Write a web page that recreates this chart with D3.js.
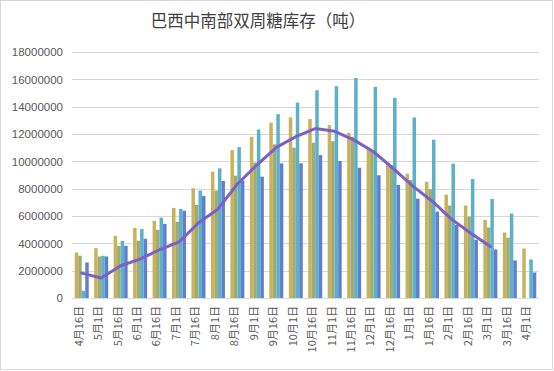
<!DOCTYPE html>
<html><head><meta charset="utf-8">
<script src="https://cdn.jsdelivr.net/npm/d3@7"></script>
<style>
html,body{margin:0;padding:0;background:#fff;}
svg{display:block;}
</style></head>
<body>
<svg id="chart" width="554" height="371"></svg>
<script>
const title = "巴西中南部双周糖库存（吨）";
const categories = ['4月16日','5月1日','5月16日','6月1日','6月16日','7月1日','7月16日','8月1日','8月16日','9月1日','9月16日','10月1日','10月16日','11月1日','11月16日','12月1日','12月16日','1月1日','1月16日','2月1日','2月16日','3月1日','3月16日','4月1日'];
const seriesNames = ['季度1','季度2','季度3','季度4'];
const series1 = [3330000,3650000,4550000,5130000,5640000,6590000,8030000,9240000,10820000,11800000,12820000,13210000,13090000,12650000,12090000,10870000,9900000,9100000,8510000,7560000,6760000,5720000,4790000,3620000];
const series2 = [3090000,3040000,3820000,4200000,4990000,5570000,6810000,7860000,8950000,9900000,11240000,11000000,11360000,11480000,11800000,10820000,9730000,8640000,7960000,6760000,5960000,5160000,4400000,null];
const series3 = [530000,3090000,4180000,5040000,5880000,6520000,7860000,9490000,11040000,12330000,13450000,14300000,15200000,15500000,16100000,15450000,14640000,13210000,11580000,9830000,8710000,7250000,6180000,2820000];
const series4 = [2600000,3040000,3820000,4330000,5420000,6390000,7470000,8560000,8600000,8880000,9850000,9850000,10460000,10020000,9530000,8980000,8270000,7270000,6320000,5350000,4260000,3550000,2750000,1870000];
const lineSeries = [1820000,1460000,2360000,2850000,3530000,4100000,5500000,6500000,8340000,9730000,11020000,11800000,12400000,12200000,11550000,10700000,9490000,8200000,7100000,5770000,4740000,3770000,null,null];
const yTicks = [0,2000000,4000000,6000000,8000000,10000000,12000000,14000000,16000000,18000000];

const barColors = ['#C9B25E','#9EAB74','#5DB0C9','#5F7FCF'];
const lineColor = '#7C60C8';

const svg = d3.select('#chart');
const W = 554, H = 371;
const m = {left:72, right:15, top:52, bottom:73};
const plotW = W - m.left - m.right, plotH = H - m.top - m.bottom;

svg.append('rect').attr('x',0.5).attr('y',0.5).attr('width',W-2).attr('height',H-2)
  .attr('fill','#fff').attr('stroke','#D9D9D9');

svg.append('text').attr('x',258).attr('y',27).attr('text-anchor','middle')
  .attr('font-family','"Noto Sans CJK SC", sans-serif').attr('font-size',16.5)
  .attr('fill','#404040').text(title);

const g = svg.append('g').attr('transform',`translate(${m.left},${m.top})`);

const y = d3.scaleLinear().domain([0,18000000]).range([plotH,0]);
const x0 = d3.scaleBand().domain(categories).range([0,plotW]).paddingInner(0.28).paddingOuter(0.14);
const x1 = d3.scaleBand().domain(d3.range(4)).range([0,x0.bandwidth()]).padding(0);

// grid
g.append('g').selectAll('line').data(yTicks).join('line')
  .attr('x1',0).attr('x2',plotW)
  .attr('y1',d=>Math.round(y(d))+0.5).attr('y2',d=>Math.round(y(d))+0.5)
  .attr('stroke','#D9D9D9').attr('stroke-width',1);

// y axis
const yAxis = g.append('g').call(d3.axisLeft(y).tickValues(yTicks).tickFormat(d3.format('d')).tickSize(0).tickPadding(9));
yAxis.select('.domain').remove();
yAxis.selectAll('text').attr('font-family','"Liberation Sans", Arial, sans-serif').attr('font-size',11.5).attr('fill','#595959');

// bars
const allSeries = [series1,series2,series3,series4];
const groups = g.append('g').selectAll('g').data(categories).join('g')
  .attr('transform',d=>`translate(${x0(d)},0)`);
groups.selectAll('rect').data((d,i)=>allSeries.map((s,k)=>({k, v:s[i]})).filter(o=>o.v!=null))
  .join('rect')
  .attr('x',o=>x1(o.k)).attr('width',x1.bandwidth())
  .attr('y',o=>y(o.v)).attr('height',o=>y(0)-y(o.v))
  .attr('fill',o=>barColors[o.k]);

// line
const line = d3.line().defined(d=>d!=null)
  .x((d,i)=>x0(categories[i])+x0.bandwidth()/2).y(d=>y(d)).curve(d3.curveLinear);
g.append('path').datum(lineSeries).attr('d',line).attr('fill','none')
  .attr('stroke',lineColor).attr('stroke-width',3).attr('stroke-linejoin','round').attr('stroke-linecap','round');

// x labels
g.append('g').selectAll('text').data(categories).join('text')
  .attr('transform',d=>`translate(${x0(d)+x0.bandwidth()/2-3},${plotH+8}) rotate(-90)`)
  .attr('dy','0.35em').attr('text-anchor','end')
  .attr('font-family','"Noto Sans CJK SC", sans-serif').attr('font-size',11).attr('fill','#595959')
  .text(d=>d);
</script>
</body></html>
